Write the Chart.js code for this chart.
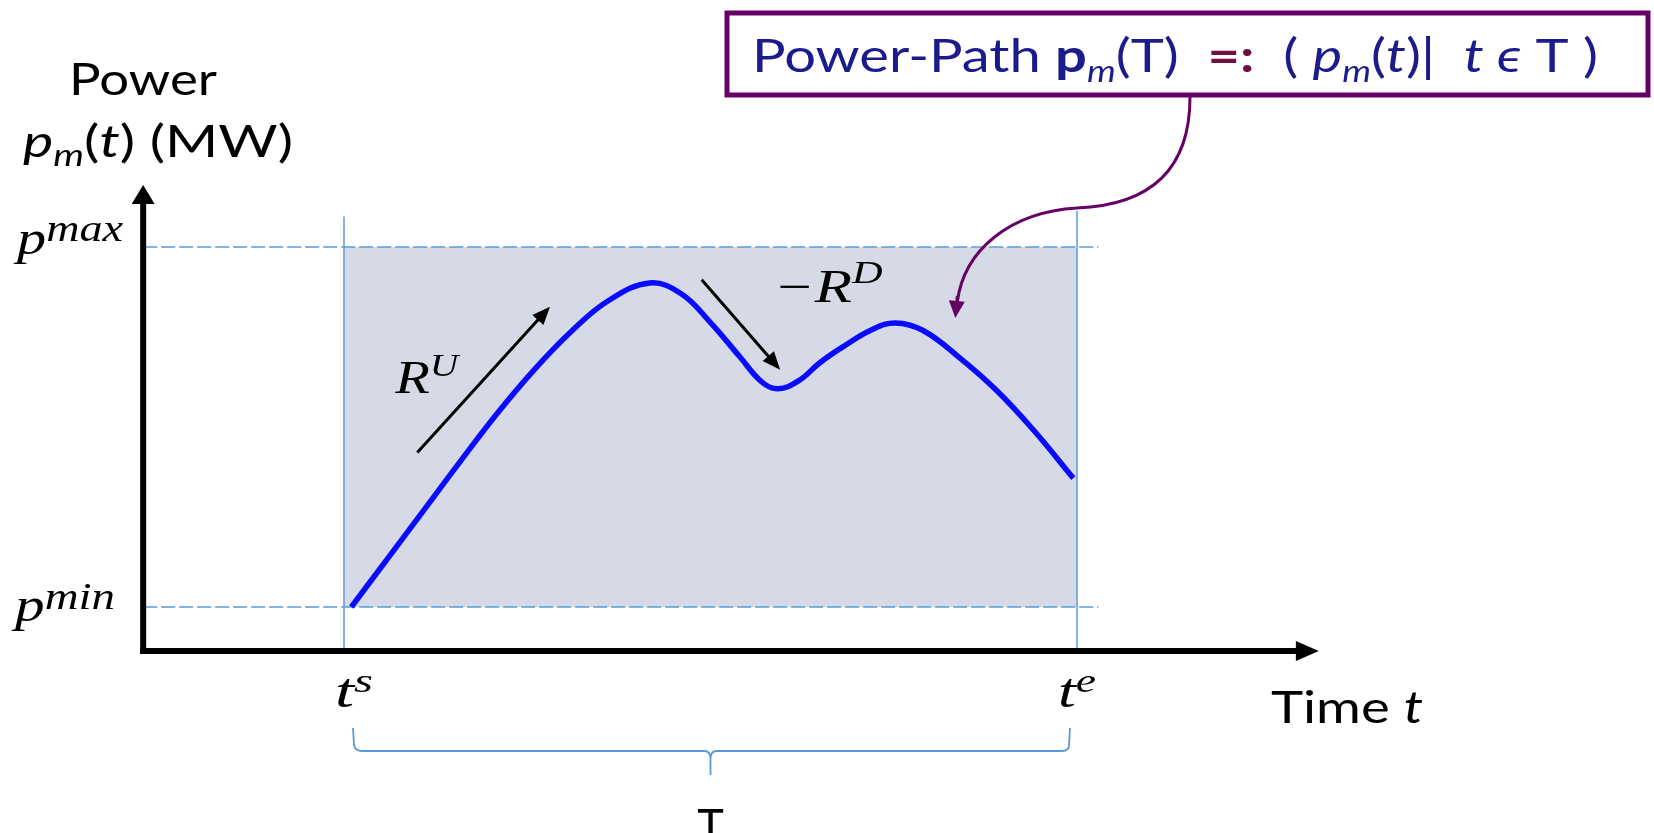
<!DOCTYPE html>
<html>
<head>
<meta charset="utf-8">
<script src="https://cdn.jsdelivr.net/npm/chart.js@4.4.1/dist/chart.umd.min.js"></script>
<style>
  html, body { margin: 0; padding: 0; background: #fff; overflow: hidden; }
</style>
</head>
<body>
<canvas id="chart" width="1654" height="833"></canvas>
<script>
// Time window T = [t^s, t^e] and power limits (abstract units)
const timeStart = 0;
const timeEnd = 10;
const powerMin = 0;
const powerMax = 10;

// Power path p_m(t)
const pathTimes  = [0.1, 0.6, 1.1, 1.6, 2.1, 2.6, 3.1, 3.6, 4.17, 4.6, 5.0, 5.4, 5.7, 5.92, 6.2, 6.5, 6.8, 7.2, 7.52, 7.9, 8.4, 8.9, 9.4, 9.95];
const pathPowers = [0, 1.36, 2.72, 4.08, 5.4, 6.6, 7.65, 8.5, 9.0, 8.7, 7.9, 6.95, 6.25, 6.06, 6.28, 6.8, 7.22, 7.7, 7.89, 7.68, 6.92, 6.02, 4.93, 3.58];

// Axis extents in the same units
const axisTime = -2.74;      // where the power axis stands
const axisPower = -1.22;     // where the time axis lies
const axisTimeEnd = 13.3;
const axisPowerEnd = 11.72;
const guideTimeEnd = 10.29;  // dashed p^min / p^max lines stop here
const startGuideTop = 10.85;
const endGuideTop = 11.0;

// Ramp arrows [time, power] start -> end
const rampUp = [[1.0, 4.29], [2.81, 8.34]];
const rampDown = [[4.88, 9.09], [5.95, 6.59]];
const calloutTarget = [8.34, 8.03];

const guideBlue = '#5b9bd5';
const navy = '#1b1b8c';
const purple = '#660066';

const SANS = 'Lato, "Open Sans", sans-serif';
const SERIF = '"Liberation Serif", "DejaVu Serif", serif';

// draw a row of text runs, squeezed/stretched to a given width
function drawRuns(ctx, runs, x, y, width, align) {
  ctx.save();
  let total = 0;
  runs.forEach(r => { ctx.font = r.font; total += ctx.measureText(r.text).width; });
  const sx = width ? width / total : 1;
  let left = x;
  if (align === 'center') left = x - total * sx / 2;
  ctx.translate(left, y);
  ctx.scale(sx, 1);
  ctx.textBaseline = 'alphabetic';
  let cx = 0;
  runs.forEach(r => {
    ctx.font = r.font;
    ctx.fillStyle = r.color || '#000';
    ctx.fillText(r.text, cx, r.dy || 0);
    cx += ctx.measureText(r.text).width;
  });
  ctx.restore();
}

function drawArrow(ctx, x1, y1, x2, y2, lw, headLen, headW, color) {
  const a = Math.atan2(y2 - y1, x2 - x1);
  const bx = x2 - Math.cos(a) * headLen;
  const by = y2 - Math.sin(a) * headLen;
  ctx.save();
  ctx.strokeStyle = color;
  ctx.fillStyle = color;
  ctx.lineWidth = lw;
  ctx.beginPath();
  ctx.moveTo(x1, y1);
  ctx.lineTo(bx + Math.cos(a) * 2, by + Math.sin(a) * 2);
  ctx.stroke();
  ctx.beginPath();
  ctx.moveTo(x2, y2);
  ctx.lineTo(bx - Math.sin(a) * headW / 2, by + Math.cos(a) * headW / 2);
  ctx.lineTo(bx + Math.sin(a) * headW / 2, by - Math.cos(a) * headW / 2);
  ctx.closePath();
  ctx.fill();
  ctx.restore();
}

const diagram = {
  id: 'diagram',
  beforeDatasetsDraw(chart) {
    const { ctx, scales: { x, y } } = chart;
    const left = x.getPixelForValue(timeStart), right = x.getPixelForValue(timeEnd);
    const top = y.getPixelForValue(powerMax), bottom = y.getPixelForValue(powerMin);
    ctx.save();
    ctx.fillStyle = 'rgb(214,217,230)';
    ctx.fillRect(left, top, right - left, bottom - top);
    ctx.restore();
  },
  afterDatasetsDraw(chart) {
    const { ctx, scales: { x, y } } = chart;
    const X = v => x.getPixelForValue(v);
    const Y = v => y.getPixelForValue(v);

    // axes
    const ox = X(axisTime), oy = Y(axisPower);
    drawArrow(ctx, ox, oy + 3, ox, Y(axisPowerEnd), 6, 19, 23, '#000');
    drawArrow(ctx, ox - 3, oy, X(axisTimeEnd), oy, 6, 23, 20, '#000');

    // ramp arrows
    drawArrow(ctx, X(rampUp[0][0]), Y(rampUp[0][1]), X(rampUp[1][0]), Y(rampUp[1][1]), 3, 18, 15, '#000');
    drawArrow(ctx, X(rampDown[0][0]), Y(rampDown[0][1]), X(rampDown[1][0]), Y(rampDown[1][1]), 3, 18, 15, '#000');

    // labels
    const sans = s => s + 'px ' + SANS;
    const sansI = s => 'italic ' + s + 'px ' + SANS;
    const mathI = s => 'italic ' + s + 'px ' + SERIF;
    drawRuns(ctx, [{ text: 'Power', font: sans(44) }], 69, 95, 148);
    drawRuns(ctx, [
      { text: 'p', font: sansI(44) },
      { text: 'm', font: sansI(30), dy: 9 },
      { text: '(', font: sans(44) },
      { text: 't', font: sansI(44) },
      { text: ') (MW)', font: sans(44) }
    ], 23, 157, 270);
    drawRuns(ctx, [{ text: 'p', font: mathI(48) }, { text: 'max', font: mathI(38), dy: -13 }], 17, Y(powerMax) + 7, 106);
    drawRuns(ctx, [{ text: 'p', font: mathI(48) }, { text: 'min', font: mathI(38), dy: -12 }], 15, Y(powerMin) + 14, 100);
    drawRuns(ctx, [{ text: 't', font: mathI(48) }, { text: 's', font: mathI(34), dy: -15 }], X(timeStart) - 9, 707, 38);
    drawRuns(ctx, [{ text: 't', font: mathI(48) }, { text: 'e', font: mathI(34), dy: -15 }], X(timeEnd) - 19, 707, 38);
    drawRuns(ctx, [{ text: 'Time ', font: sans(45) }, { text: 't', font: sansI(45) }], 1271, 723, 152);
    drawRuns(ctx, [{ text: 'T', font: sans(45) }], (X(timeStart) + X(timeEnd)) / 2, 841, 0, 'center');
    drawRuns(ctx, [{ text: 'R', font: mathI(46) }, { text: 'U', font: mathI(32), dy: -17 }], X(rampUp[0][0]) - 22, 393, 63);
    drawRuns(ctx, [{ text: '\u2212', font: mathI(46) }, { text: 'R', font: mathI(46) }, { text: 'D', font: mathI(32), dy: -19 }], X(rampDown[0][0]) + 72, 302, 109);

    // brace under T
    const bl = X(timeStart) + 9, br = X(timeEnd) - 7, bm = (X(timeStart) + X(timeEnd)) / 2;
    ctx.save();
    ctx.strokeStyle = guideBlue;
    ctx.lineWidth = 1.8;
    ctx.beginPath();
    ctx.moveTo(bl, 728);
    ctx.lineTo(bl + 1, 745);
    ctx.quadraticCurveTo(bl + 2, 751, bl + 9, 751);
    ctx.lineTo(bm - 6, 751);
    ctx.quadraticCurveTo(bm, 751, bm, 759);
    ctx.lineTo(bm, 775);
    ctx.moveTo(bm, 759);
    ctx.quadraticCurveTo(bm, 751, bm + 6, 751);
    ctx.lineTo(br - 8, 751);
    ctx.quadraticCurveTo(br - 1, 751, br - 1, 745);
    ctx.lineTo(br, 728);
    ctx.stroke();
    ctx.restore();

    // callout box
    ctx.save();
    ctx.fillStyle = '#fff';
    ctx.fillRect(727, 13, 921, 82);
    ctx.strokeStyle = purple;
    ctx.lineWidth = 5;
    ctx.strokeRect(727, 13, 921, 82);
    ctx.restore();
    drawRuns(ctx, [
      { text: 'Power-Path ', font: sans(46), color: navy },
      { text: 'p', font: 'bold ' + sans(46), color: navy },
      { text: 'm', font: sansI(30), color: navy, dy: 10 },
      { text: '(T)  ', font: sans(46), color: navy },
      { text: '=:', font: 'bold ' + sans(46), color: '#6e1040' },
      { text: '  ( ', font: sans(46), color: navy },
      { text: 'p', font: sansI(46), color: navy },
      { text: 'm', font: sansI(30), color: navy, dy: 10 },
      { text: '(', font: sans(46), color: navy },
      { text: 't', font: sansI(46), color: navy },
      { text: ')|  ', font: sans(46), color: navy },
      { text: 't ', font: sansI(46), color: navy },
      { text: '\u03f5', font: sansI(46), color: navy },
      { text: ' T )', font: sans(46), color: navy }
    ], 752, 72, 846);

    // connector from the box to the curve
    const tx = X(calloutTarget[0]), ty = Y(calloutTarget[1]);
    ctx.save();
    ctx.strokeStyle = purple;
    ctx.lineWidth = 3;
    ctx.beginPath();
    ctx.moveTo(1190, 97);
    ctx.bezierCurveTo(1190, 168, 1152, 205, 1077, 208);
    ctx.bezierCurveTo(1010, 212, 964, 250, tx + 2, ty - 16);
    ctx.stroke();
    ctx.restore();
    drawArrow(ctx, tx + 2, ty - 22, tx, ty, 3, 17, 16, purple);
  }
};

const pathData = pathTimes.map((t, i) => ({ x: t, y: pathPowers[i] }));
const guide = (pts, dash) => ({
  data: pts.map(p => ({ x: p[0], y: p[1] })),
  borderColor: guideBlue,
  borderWidth: 1.5,
  borderDash: dash,
  pointRadius: 0,
  tension: 0,
  clip: false
});

new Chart(document.getElementById('chart'), {
  type: 'line',
  data: {
    datasets: [
      {
        label: 'p_m(t)',
        data: pathData,
        borderColor: '#0a0aff',
        borderWidth: 5.5,
        pointRadius: 0,
        tension: 0.4,
        borderCapStyle: 'butt',
        borderJoinStyle: 'round',
        clip: false
      },
      guide([[axisTime, powerMax], [guideTimeEnd, powerMax]], [14, 4]),
      guide([[axisTime, powerMin], [guideTimeEnd, powerMin]], [14, 4]),
      guide([[timeStart, axisPower], [timeStart, startGuideTop]], []),
      guide([[timeEnd, axisPower], [timeEnd, endGuideTop]], [])
    ]
  },
  options: {
    responsive: false,
    animation: false,
    devicePixelRatio: 1,
    layout: { padding: { left: 344, right: 577, top: 247, bottom: 226 } },
    scales: {
      x: { type: 'linear', min: timeStart, max: timeEnd, display: false },
      y: { type: 'linear', min: powerMin, max: powerMax, display: false }
    },
    plugins: { legend: { display: false }, tooltip: { enabled: false } }
  },
  plugins: [diagram]
});
</script>
</body>
</html>
